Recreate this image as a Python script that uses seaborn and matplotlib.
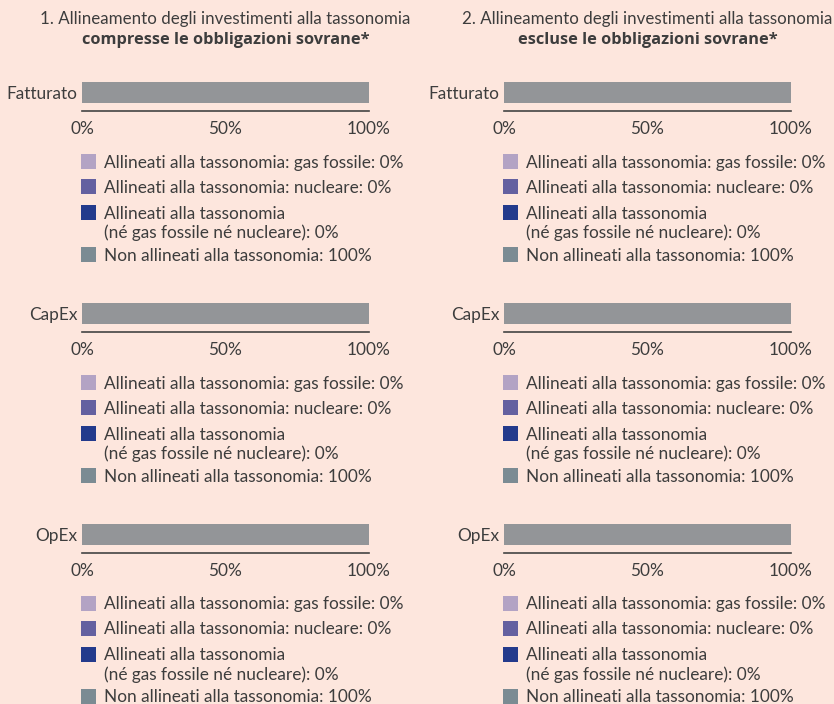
import matplotlib
matplotlib.use("Agg")
import matplotlib.pyplot as plt
import seaborn as sns
from matplotlib.patches import Rectangle

sns.set_style("white")
plt.rcParams["font.family"] = ["Lato", "DejaVu Sans"]

# data
categories = ["Fatturato", "CapEx", "OpEx"]
panel_titles = ["1. Allineamento degli investimenti alla tassonomia",
                "2. Allineamento degli investimenti alla tassonomia"]
panel_subtitles = ["compresse le obbligazioni sovrane*",
                   "escluse le obbligazioni sovrane*"]
gas_fossile = [[0, 0, 0], [0, 0, 0]]
nucleare = [[0, 0, 0], [0, 0, 0]]
altri_allineati = [[0, 0, 0], [0, 0, 0]]
non_allineati = [[100, 100, 100], [100, 100, 100]]
x_ticks = [0, 50, 100]

legend_names = ["Allineati alla tassonomia: gas fossile: {}%",
                "Allineati alla tassonomia: nucleare: {}%",
                "Allineati alla tassonomia\n(né gas fossile né nucleare): {}%",
                "Non allineati alla tassonomia: {}%"]

bg = "#fde6dd"
txt = "#3d3d3d"
bar_colors = ["#b3a3c4", "#6460a0", "#233a8c", "#939598"]
legend_colors = ["#b3a3c4", "#6460a0", "#233a8c", "#7b8b93"]

W, H = 834, 704
fig = plt.figure(figsize=(W / 100, H / 100), dpi=100, facecolor=bg)

panel_left = [82, 504]
bar_w = 287
bar_center = [92.5, 313.3, 534]
fs = 12.2
fs_leg = 12.4


def fx(px):
    return px / W


def fy(py):
    return 1 - py / H


for p in range(2):
    cx = panel_left[p] + bar_w / 2
    fig.text(fx(cx), fy(19), panel_titles[p], ha="center", va="center",
             fontsize=fs, color=txt)
    fig.text(fx(cx), fy(40), panel_subtitles[p], ha="center", va="center",
             fontsize=11.8, color=txt, fontweight="bold",
             family=["Open Sans", "DejaVu Sans"])

    for r, cat in enumerate(categories):
        yc = bar_center[r]
        top, bottom = yc - 12.5, yc + 18.5
        ax = fig.add_axes([fx(panel_left[p]), fy(bottom), fx(bar_w), (bottom - top) / H])
        ax.set_facecolor(bg)

        parts = [gas_fossile[p][r], nucleare[p][r], altri_allineati[p][r], non_allineati[p][r]]
        cum = [sum(parts[:i + 1]) for i in range(4)]
        # stacked: draw largest cumulative first
        for i in reversed(range(4)):
            sns.barplot(x=[cum[i]], y=[cat], orient="h", color=bar_colors[i],
                        saturation=1, width=0.8, linewidth=0, ax=ax)

        ax.set_xlim(0, 100)
        px_unit = 0.8 / 21
        ax.set_ylim(0.4 + 8 * px_unit, -0.4 - 2 * px_unit)
        ax.set_xticks(x_ticks)
        ax.set_xticklabels([f"{t}%" for t in x_ticks])
        ax.tick_params(axis="x", length=0, pad=7.5, labelsize=fs_leg, labelcolor=txt)
        ax.tick_params(axis="y", length=0, pad=3.5, labelsize=fs_leg, labelcolor=txt)
        ax.set_xlabel("")
        ax.set_ylabel("")
        for s in ["top", "right", "left"]:
            ax.spines[s].set_visible(False)
        ax.spines["bottom"].set_color("#444444")
        ax.spines["bottom"].set_linewidth(1.2)

        # legend
        offsets = [69, 94, 120, 162]
        for i in range(4):
            sy = yc + offsets[i]
            fig.patches.append(Rectangle((fx(panel_left[p] - 1), fy(sy + 7.5)), fx(15), 15 / H,
                                         transform=fig.transFigure, facecolor=legend_colors[i],
                                         edgecolor="none"))
            fig.text(fx(panel_left[p] + 22), fy(sy - 6.5), legend_names[i].format(parts[i]),
                     ha="left", va="top", fontsize=fs_leg, color=txt, linespacing=1.2)

fig.savefig("out.png", dpi=100, facecolor=bg)
